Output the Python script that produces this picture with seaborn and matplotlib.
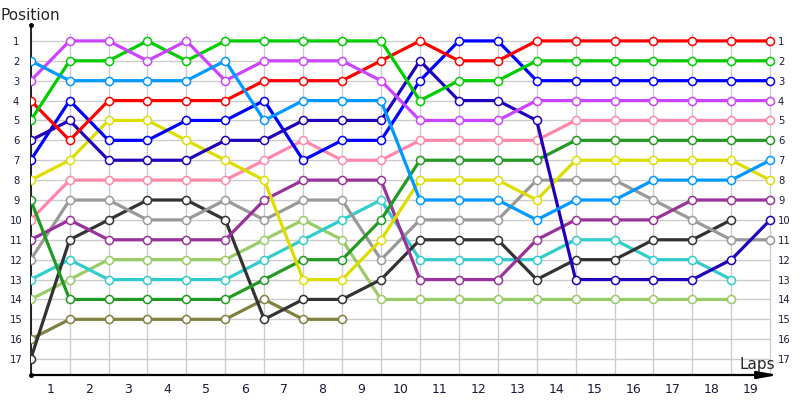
import numpy as np
import pandas as pd
import matplotlib
matplotlib.use("Agg")
import matplotlib.pyplot as plt
import seaborn as sns

laps = list(range(20))
lap_labels = [str(k) for k in range(1, 20)]
positions = list(range(1, 18))
N = None

red        = [4,6,4,4,4,4,3,3,3,2,1,2,2,1,1,1,1,1,1,1]
green      = [5,2,2,1,2,1,1,1,1,1,4,3,3,2,2,2,2,2,2,2]
violet     = [3,1,1,2,1,3,2,2,2,3,5,5,5,4,4,4,4,4,4,4]
lightblue  = [2,3,3,3,3,2,5,4,4,4,9,9,9,10,9,9,8,8,8,7]
blue       = [7,4,6,6,5,5,4,7,6,6,3,1,1,3,3,3,3,3,3,3]
navy       = [6,5,7,7,7,6,6,5,5,5,2,4,4,5,13,13,13,13,12,10]
pink       = [10,8,8,8,8,8,7,6,7,7,6,6,6,6,5,5,5,5,5,5]
forest     = [9,14,14,14,14,14,13,12,12,10,7,7,7,7,6,6,6,6,6,6]
yellow     = [8,7,5,5,6,7,8,13,13,11,8,8,8,9,7,7,7,7,7,8]
darkpurple = [11,10,11,11,11,11,9,8,8,8,13,13,13,11,10,10,10,9,9,9]
gray       = [12,9,9,10,10,9,10,9,9,12,10,10,10,8,8,8,9,10,11,11]
darkgray   = [17,11,10,9,9,10,15,14,14,13,11,11,11,13,12,12,11,11,10,N]
teal       = [13,12,13,13,13,13,12,11,10,9,12,12,12,12,11,11,12,12,13,N]
lightgreen = [14,13,12,12,12,12,11,10,11,14,14,14,14,14,14,14,14,14,14,N]
olive      = [16,15,15,15,15,15,14,15,15,N,N,N,N,N,N,N,N,N,N,N]

series = {
    "olive": olive, "lightgreen": lightgreen, "teal": teal, "darkgray": darkgray,
    "gray": gray, "darkpurple": darkpurple, "pink": pink, "forest": forest,
    "yellow": yellow, "blue": blue, "navy": navy, "red": red,
    "green": green, "violet": violet, "lightblue": lightblue,
}
palette = {
    "red": "#ff0000", "green": "#00cc00", "violet": "#cc44ff", "lightblue": "#0099ff",
    "blue": "#0000ff", "navy": "#2200bb", "pink": "#ff88aa", "forest": "#229922",
    "yellow": "#dddd00", "darkpurple": "#993399", "gray": "#999999",
    "darkgray": "#333333", "teal": "#33cccc", "lightgreen": "#99cc66",
    "olive": "#808040",
}

rows = []
for name, vals in series.items():
    for lap, v in zip(laps, vals):
        if v is not None:
            rows.append({"driver": name, "lap": lap, "pos": v})
df = pd.DataFrame(rows)

sns.set_style("white")
plt.rcParams["font.family"] = ["DejaVu Sans"]
label_color = "#1a1a3a"

fig = plt.figure(figsize=(8, 4), dpi=100)
ax = fig.add_axes([30.7 / 800, 0.0625, (778.0 - 30.7) / 800, 0.875])

# grid
ax.vlines(laps, 0.6, 17.8, color="#cccccc", lw=1, zorder=0)
ax.hlines(positions, 0, laps[-1], color="#cccccc", lw=1, zorder=0)

sns.lineplot(data=df, x="lap", y="pos", hue="driver", palette=palette,
             hue_order=list(series.keys()), estimator=None, sort=False,
             marker="o", markersize=5.8, markerfacecolor="white",
             mew=1.1, lw=2.3, legend=False, ax=ax, zorder=3)
for ln in ax.get_lines():
    ln.set_markeredgecolor(ln.get_color())
    ln.set_solid_joinstyle("round")

xmax = 19.2
ax.set_xlim(0, xmax)
ax.set_ylim(17.8, 0.2)
ax.set_xlabel("")
ax.set_ylabel("")

ax.set_xticks([int(l) - 0.5 for l in lap_labels])
ax.set_xticklabels(lap_labels, fontsize=9, color=label_color)
ax.set_yticks(positions)
ax.set_yticklabels([str(p) for p in positions], fontsize=7.2, color=label_color)
ax.tick_params(axis="x", length=0, pad=6)
ax.tick_params(axis="y", length=0, pad=10.5)
for t in ax.yaxis.get_major_ticks():
    t.label1.set_horizontalalignment("center")

# right-side position labels
ax2 = ax.twinx()
ax2.set_ylim(ax.get_ylim())
ax2.set_yticks(positions)
ax2.set_yticklabels([str(p) for p in positions], fontsize=7.2, color=label_color)
ax2.tick_params(axis="y", length=0, pad=0)
for s in ax2.spines.values():
    s.set_visible(False)
ax2.grid(False)

for s in ["top", "right"]:
    ax.spines[s].set_visible(False)
ax.spines["left"].set_color("black")
ax.spines["left"].set_linewidth(1.2)
ax.spines["bottom"].set_color("black")
ax.spines["bottom"].set_linewidth(1.6)
ax.spines["bottom"].set_bounds(0, 18.9)

ax.annotate("", xy=(1.0, 0), xycoords="axes fraction", xytext=(0.97, 0),
            arrowprops=dict(arrowstyle="-|>,head_length=1.2,head_width=0.22",
                            color="black", lw=1.6, shrinkA=0, shrinkB=0))
ax.plot([0, 0], [0, 1], "o", color="black", ms=2.5, transform=ax.transAxes, clip_on=False)

fig.text(1 / 800, 1 - 15 / 400, "Position", fontsize=11, va="center", ha="left")
fig.text(775 / 800, 1 - 364 / 400, "Laps", fontsize=11, va="center", ha="right")

fig.savefig("out.png", dpi=100)
